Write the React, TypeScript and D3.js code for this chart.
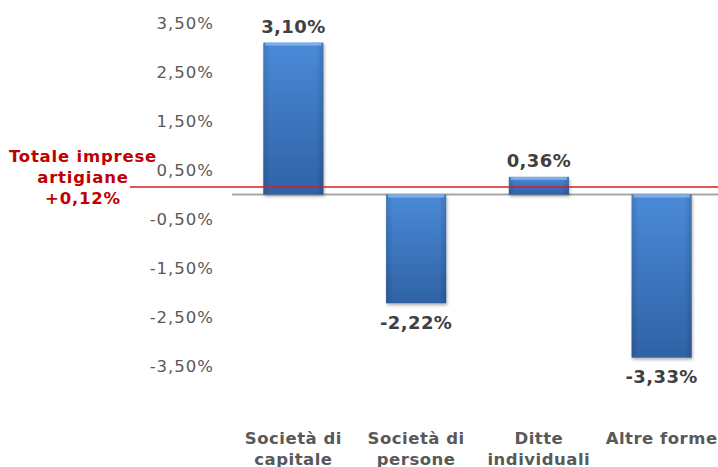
import React from "react";
import * as d3 from "d3";

const categories = [
  ["Società di", "capitale"],
  ["Società di", "persone"],
  ["Ditte", "individuali"],
  ["Altre forme", ""],
];
const values = [3.1, -2.22, 0.36, -3.33];
const tickValues = [3.5, 2.5, 1.5, 0.5, -0.5, -1.5, -2.5, -3.5];
const totalValue = 0.12;
const totalLabel = ["Totale imprese", "artigiane", "+0,12%"];

const W = 718;
const H = 467;
const fmt = (v: number) => v.toFixed(2).replace(".", ",") + "%";

export default function App() {
  const keys = categories.map((c) => c.join(" "));
  const x = d3
    .scaleBand<string>()
    .domain(keys)
    .range([232, 723])
    .paddingInner(0.51)
    .paddingOuter(0.255);
  const y = d3.scaleLinear().domain([-4.5, 4]).range([194.5 + 4.5 * 49, 194.5 - 4 * 49]);
  const font = "Verdana, 'DejaVu Sans', sans-serif";

  return (
    <svg
      width={W}
      height={H}
      style={{ position: "absolute", left: 0, top: 0, background: "#fff" }}
      fontFamily={font}
    >
      <defs>
        <linearGradient id="barGrad" x1="0" y1="0" x2="0" y2="1">
          <stop offset="0%" stopColor="#4a8ad8" />
          <stop offset="100%" stopColor="#3062a6" />
        </linearGradient>
        <linearGradient id="sideGrad" x1="0" y1="0" x2="1" y2="0">
          <stop offset="0%" stopColor="#000" stopOpacity={0.12} />
          <stop offset="12%" stopColor="#000" stopOpacity={0} />
          <stop offset="88%" stopColor="#000" stopOpacity={0} />
          <stop offset="100%" stopColor="#000" stopOpacity={0.15} />
        </linearGradient>
        <filter id="shadow" x="-20%" y="-20%" width="140%" height="140%">
          <feDropShadow dx="1" dy="2" stdDeviation="1.5" floodColor="#000" floodOpacity={0.3} />
        </filter>
      </defs>

      {tickValues.map((t) => (
        <text
          key={t}
          x={214}
          y={y(t)}
          textAnchor="end"
          dominantBaseline="central"
          fontSize={16.5}
          letterSpacing={1}
          fill="#595959"
        >
          {fmt(t)}
        </text>
      ))}

      <line x1={232} x2={718} y1={y(0)} y2={y(0)} stroke="#a6a6a6" strokeWidth={2} />

      {values.map((v, i) => {
        const bx = x(keys[i])!;
        const bw = x.bandwidth();
        const top = y(Math.max(0, v));
        const h = Math.abs(y(v) - y(0));
        const cx = bx + bw / 2;
        return (
          <g key={keys[i]}>
            <g filter="url(#shadow)">
              <rect x={bx} y={top} width={bw} height={h} fill="url(#barGrad)" />
            </g>
            <rect x={bx} y={top} width={bw} height={h} fill="url(#sideGrad)" />
            <rect x={bx + 2} y={top} width={bw - 4} height={Math.min(3, h)} fill="#8fb8ec" opacity={0.8} />
            <text
              x={cx}
              y={v >= 0 ? y(v) - 16 : y(v) + 19}
              textAnchor="middle"
              dominantBaseline="central"
              fontSize={18}
              fontWeight="bold"
              letterSpacing={0.4}
              fill="#404040"
            >
              {fmt(v)}
            </text>
            {categories[i].map((line, j) => (
              <text
                key={j}
                x={cx}
                y={438 + j * 21.5}
                textAnchor="middle"
                dominantBaseline="central"
                fontSize={16.5}
                fontWeight="bold"
                letterSpacing={0.5}
                fill="#595959"
              >
                {line}
              </text>
            ))}
          </g>
        );
      })}

      <line x1={130} x2={718} y1={y(totalValue) - 1.5} y2={y(totalValue) - 1.5} stroke="#d42020" strokeWidth={1.5} />
      {totalLabel.map((line, j) => (
        <text
          key={j}
          x={83}
          y={156 + j * 21}
          textAnchor="middle"
          dominantBaseline="central"
          fontSize={16.5}
          fontWeight="bold"
          letterSpacing={0.8}
          fill="#c00000"
        >
          {line}
        </text>
      ))}
    </svg>
  );
}
